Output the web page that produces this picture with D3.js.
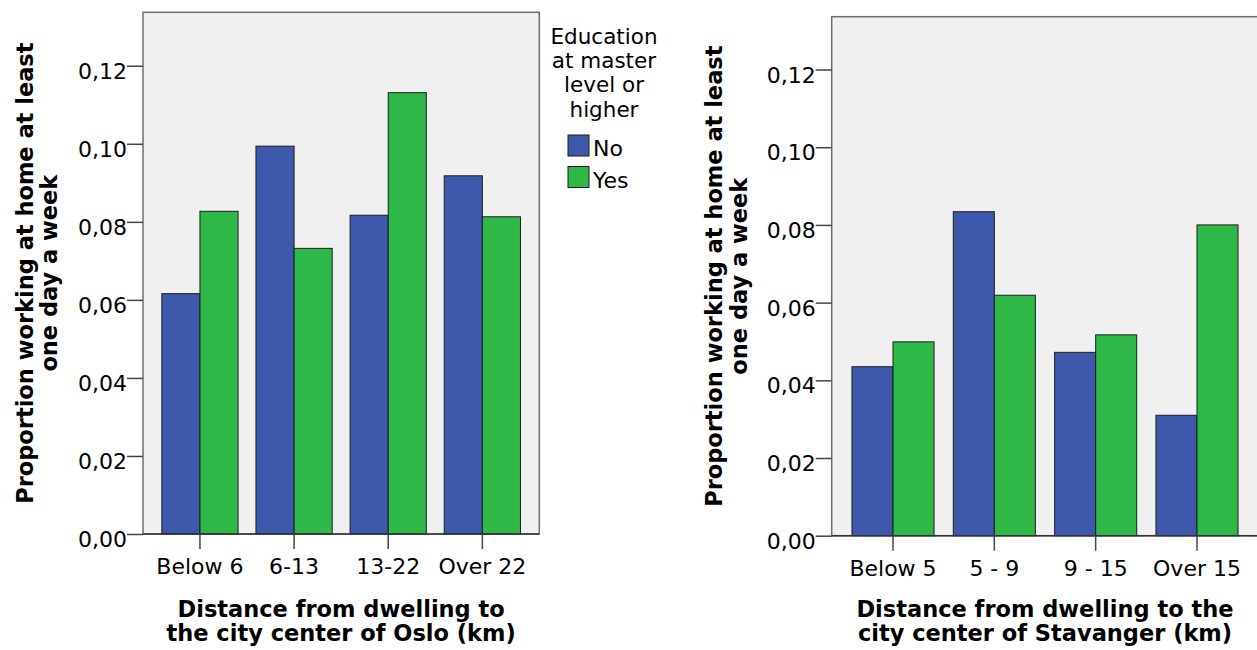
<!DOCTYPE html>
<html>
<head>
<meta charset="utf-8">
<script src="https://cdn.jsdelivr.net/npm/d3@7"></script>
<style>
  html, body { margin: 0; padding: 0; background: #ffffff; }
  svg { display: block; }
  text { font-family: "DejaVu Sans", "Liberation Sans", Arial, sans-serif; fill: #000; }
</style>
</head>
<body>
<svg id="chart" width="1257" height="650"></svg>
<script>
// ---- data ----
const seriesNames = ["No", "Yes"];
const osloCategories = ["Below 6", "6-13", "13-22", "Over 22"];
const osloNo  = [0.0616, 0.0994, 0.0817, 0.0918];
const osloYes = [0.0827, 0.0732, 0.1131, 0.0813];
const stavCategories = ["Below 5", "5 - 9", "9 - 15", "Over 15"];
const stavNo  = [0.0435, 0.0834, 0.0472, 0.0310];
const stavYes = [0.0499, 0.0619, 0.0517, 0.0800];
const yTickValues = [0, 0.02, 0.04, 0.06, 0.08, 0.10, 0.12];
const yTitleLines = ["Proportion working at home at least", "one day a week"];
const osloXTitle = ["Distance from dwelling to", "the city center of Oslo (km)"];
const stavXTitle = ["Distance from dwelling to the", "city center of Stavanger (km)"];
const legendTitle = ["Education", "at master", "level or", "higher"];

// ---- styles ----
const colors = { No: "#3E58AC", Yes: "#2EB848" };
const svg = d3.select("#chart");
const fmt = v => d3.format(".2f")(v).replace(".", ",");

function panel(cfg) {
  const { x0, x1, yTop, yBottom, yMax, cats, no, yes, xTitle, yTitleX } = cfg;
  const g = svg.append("g");
  const y = d3.scaleLinear().domain([0, yMax]).range([yBottom, yTop]);
  const x = d3.scaleBand().domain(cats).range([x0, x1]).paddingInner(0.19).paddingOuter(0.2);
  const xs = d3.scaleBand().domain(seriesNames).range([0, x.bandwidth()]).padding(0);

  // plot background + frame
  g.append("rect")
    .attr("x", x0).attr("y", yTop)
    .attr("width", x1 - x0).attr("height", yBottom - yTop)
    .attr("fill", "#F0F0F0").attr("stroke", "#6e6e6e").attr("stroke-width", 1.5);

  // bars
  const rows = cats.map((c, i) => ({ cat: c, vals: [{ s: "No", v: no[i] }, { s: "Yes", v: yes[i] }] }));
  const grp = g.selectAll("g.grp").data(rows).join("g")
    .attr("transform", d => `translate(${x(d.cat)},0)`);
  grp.selectAll("rect").data(d => d.vals).join("rect")
    .attr("x", d => xs(d.s))
    .attr("width", xs.bandwidth())
    .attr("y", d => y(d.v))
    .attr("height", d => y(0) - y(d.v))
    .attr("fill", d => colors[d.s])
    .attr("stroke", "#1e1e1e").attr("stroke-width", 1);

  // bottom axis line
  g.append("line").attr("x1", x0).attr("x2", x1).attr("y1", yBottom).attr("y2", yBottom)
    .attr("stroke", "#333").attr("stroke-width", 1.5);

  // y axis
  const ya = g.append("g").attr("transform", `translate(${x0},0)`)
    .call(d3.axisLeft(y).tickValues(yTickValues).tickSize(16).tickPadding(0).tickFormat(fmt));
  ya.select(".domain").remove();
  ya.selectAll(".tick line").attr("stroke", "#444").attr("stroke-width", 1.5);
  ya.selectAll(".tick text").attr("dy", null).attr("y", 12.5)
    .attr("font-size", 22).attr("font-family", null).attr("fill", "#000");

  // x axis
  const xa = g.append("g").attr("transform", `translate(0,${yBottom})`)
    .call(d3.axisBottom(x).tickSize(15).tickPadding(0));
  xa.select(".domain").remove();
  xa.selectAll(".tick line").attr("stroke", "#444").attr("stroke-width", 1.5);
  xa.selectAll(".tick text").attr("dy", null).attr("y", 40)
    .attr("font-size", 22).attr("font-family", null).attr("fill", "#000");

  // x title
  const cx = (x0 + x1) / 2;
  xTitle.forEach((t, i) => {
    g.append("text").attr("x", cx).attr("y", 617 + i * 24)
      .attr("text-anchor", "middle").attr("font-size", 22.5).attr("font-weight", "bold").text(t);
  });

  // y title
  const cy = (yTop + yBottom) / 2;
  yTitleLines.forEach((t, i) => {
    g.append("text")
      .attr("transform", `translate(${yTitleX[i]},${cy}) rotate(-90)`)
      .attr("text-anchor", "middle").attr("font-size", 22.5).attr("font-weight", "bold").text(t);
  });
}

panel({ x0: 143, x1: 539.3, yTop: 12.3, yBottom: 534, yMax: 0.1337,
        cats: osloCategories, no: osloNo, yes: osloYes, xTitle: osloXTitle, yTitleX: [32.5, 57] });
panel({ x0: 831.7, x1: 1258.3, yTop: 16.7, yBottom: 535.7, yMax: 0.1336,
        cats: stavCategories, no: stavNo, yes: stavYes, xTitle: stavXTitle, yTitleX: [721.5, 746.5] });

// legend
const lg = svg.append("g");
legendTitle.forEach((t, i) => {
  lg.append("text").attr("x", 604).attr("y", 44 + i * 24.2)
    .attr("text-anchor", "middle").attr("font-size", 21.5).text(t);
});
const items = lg.selectAll("g.item").data(seriesNames).join("g")
  .attr("transform", (d, i) => `translate(568,${135 + i * 31.5})`);
items.append("rect").attr("width", 21).attr("height", 21)
  .attr("fill", d => colors[d]).attr("stroke", "#1e1e1e").attr("stroke-width", 1);
items.append("text").attr("x", 25).attr("y", 21).attr("font-size", 22).text(d => d);
</script>
</body>
</html>
